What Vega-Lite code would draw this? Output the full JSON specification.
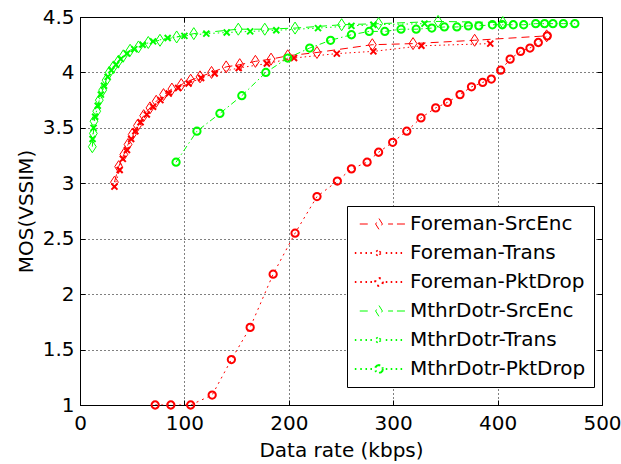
{
  "$schema": "https://vega.github.io/schema/vega-lite/v6.json",
  "width": 522,
  "height": 388,
  "autosize": {"type": "none"},
  "padding": {"left": 80, "top": 17, "right": 19, "bottom": 59},
  "background": "white",
  "config": {
    "view": {"stroke": "black", "strokeWidth": 1},
    "font": "DejaVu Sans",
    "axis": {
      "domainColor": "black",
      "domainWidth": 1,
      "tickColor": "black",
      "tickSize": -5,
      "labelFont": "DejaVu Sans",
      "labelFontSize": 20,
      "labelColor": "black",
      "titleFont": "DejaVu Sans",
      "titleFontSize": 20,
      "titleFontWeight": "normal",
      "titleColor": "black",
      "gridColor": "black",
      "gridDash": [1, 3],
      "gridOpacity": 1,
      "gridWidth": 1
    },
    "legend": {
      "strokeColor": "black",
      "fillColor": "white"
    }
  },
  "data": {
    "values": [
      {"series": "Foreman-SrcEnc", "rate": 33, "mos": 3.01},
      {"series": "Foreman-SrcEnc", "rate": 37, "mos": 3.15},
      {"series": "Foreman-SrcEnc", "rate": 42, "mos": 3.26},
      {"series": "Foreman-SrcEnc", "rate": 46, "mos": 3.35},
      {"series": "Foreman-SrcEnc", "rate": 50, "mos": 3.44},
      {"series": "Foreman-SrcEnc", "rate": 55, "mos": 3.52},
      {"series": "Foreman-SrcEnc", "rate": 61, "mos": 3.61},
      {"series": "Foreman-SrcEnc", "rate": 67, "mos": 3.68},
      {"series": "Foreman-SrcEnc", "rate": 73, "mos": 3.74},
      {"series": "Foreman-SrcEnc", "rate": 80, "mos": 3.80},
      {"series": "Foreman-SrcEnc", "rate": 88, "mos": 3.85},
      {"series": "Foreman-SrcEnc", "rate": 97, "mos": 3.89},
      {"series": "Foreman-SrcEnc", "rate": 106, "mos": 3.93},
      {"series": "Foreman-SrcEnc", "rate": 115, "mos": 3.96},
      {"series": "Foreman-SrcEnc", "rate": 126, "mos": 4.0},
      {"series": "Foreman-SrcEnc", "rate": 140, "mos": 4.05},
      {"series": "Foreman-SrcEnc", "rate": 153, "mos": 4.07},
      {"series": "Foreman-SrcEnc", "rate": 168, "mos": 4.10},
      {"series": "Foreman-SrcEnc", "rate": 183, "mos": 4.12},
      {"series": "Foreman-SrcEnc", "rate": 199, "mos": 4.15},
      {"series": "Foreman-SrcEnc", "rate": 227, "mos": 4.18},
      {"series": "Foreman-SrcEnc", "rate": 280, "mos": 4.25},
      {"series": "Foreman-SrcEnc", "rate": 319, "mos": 4.26},
      {"series": "Foreman-SrcEnc", "rate": 378, "mos": 4.29},
      {"series": "Foreman-SrcEnc", "rate": 447, "mos": 4.33},

      {"series": "Foreman-Trans", "rate": 33, "mos": 2.97},
      {"series": "Foreman-Trans", "rate": 38, "mos": 3.12},
      {"series": "Foreman-Trans", "rate": 41, "mos": 3.22},
      {"series": "Foreman-Trans", "rate": 45, "mos": 3.30},
      {"series": "Foreman-Trans", "rate": 49, "mos": 3.40},
      {"series": "Foreman-Trans", "rate": 53, "mos": 3.47},
      {"series": "Foreman-Trans", "rate": 58, "mos": 3.55},
      {"series": "Foreman-Trans", "rate": 64, "mos": 3.62},
      {"series": "Foreman-Trans", "rate": 70, "mos": 3.69},
      {"series": "Foreman-Trans", "rate": 77, "mos": 3.75},
      {"series": "Foreman-Trans", "rate": 85, "mos": 3.81},
      {"series": "Foreman-Trans", "rate": 94, "mos": 3.86},
      {"series": "Foreman-Trans", "rate": 104, "mos": 3.90},
      {"series": "Foreman-Trans", "rate": 116, "mos": 3.95},
      {"series": "Foreman-Trans", "rate": 129, "mos": 3.99},
      {"series": "Foreman-Trans", "rate": 152, "mos": 4.04},
      {"series": "Foreman-Trans", "rate": 179, "mos": 4.08},
      {"series": "Foreman-Trans", "rate": 205, "mos": 4.13},
      {"series": "Foreman-Trans", "rate": 246, "mos": 4.17},
      {"series": "Foreman-Trans", "rate": 281, "mos": 4.19},
      {"series": "Foreman-Trans", "rate": 327, "mos": 4.24},
      {"series": "Foreman-Trans", "rate": 393, "mos": 4.26},

      {"series": "Foreman-PktDrop", "rate": 72, "mos": 1.0},
      {"series": "Foreman-PktDrop", "rate": 87, "mos": 1.0},
      {"series": "Foreman-PktDrop", "rate": 106, "mos": 1.0},
      {"series": "Foreman-PktDrop", "rate": 126.6, "mos": 1.09},
      {"series": "Foreman-PktDrop", "rate": 145, "mos": 1.41},
      {"series": "Foreman-PktDrop", "rate": 163, "mos": 1.70},
      {"series": "Foreman-PktDrop", "rate": 185, "mos": 2.18},
      {"series": "Foreman-PktDrop", "rate": 206, "mos": 2.55},
      {"series": "Foreman-PktDrop", "rate": 227, "mos": 2.88},
      {"series": "Foreman-PktDrop", "rate": 246.5, "mos": 3.02},
      {"series": "Foreman-PktDrop", "rate": 260, "mos": 3.13},
      {"series": "Foreman-PktDrop", "rate": 275, "mos": 3.19},
      {"series": "Foreman-PktDrop", "rate": 286, "mos": 3.28},
      {"series": "Foreman-PktDrop", "rate": 299.5, "mos": 3.37},
      {"series": "Foreman-PktDrop", "rate": 313, "mos": 3.47},
      {"series": "Foreman-PktDrop", "rate": 326.6, "mos": 3.59},
      {"series": "Foreman-PktDrop", "rate": 340.7, "mos": 3.68},
      {"series": "Foreman-PktDrop", "rate": 352, "mos": 3.73},
      {"series": "Foreman-PktDrop", "rate": 364, "mos": 3.80},
      {"series": "Foreman-PktDrop", "rate": 375, "mos": 3.87},
      {"series": "Foreman-PktDrop", "rate": 385.7, "mos": 3.91},
      {"series": "Foreman-PktDrop", "rate": 394, "mos": 3.94},
      {"series": "Foreman-PktDrop", "rate": 403, "mos": 4.02},
      {"series": "Foreman-PktDrop", "rate": 412, "mos": 4.12},
      {"series": "Foreman-PktDrop", "rate": 422, "mos": 4.19},
      {"series": "Foreman-PktDrop", "rate": 431, "mos": 4.22},
      {"series": "Foreman-PktDrop", "rate": 439, "mos": 4.27},
      {"series": "Foreman-PktDrop", "rate": 447.6, "mos": 4.33},

      {"series": "MthrDotr-SrcEnc", "rate": 11.8, "mos": 3.33},
      {"series": "MthrDotr-SrcEnc", "rate": 12.8, "mos": 3.45},
      {"series": "MthrDotr-SrcEnc", "rate": 13.4, "mos": 3.56},
      {"series": "MthrDotr-SrcEnc", "rate": 16, "mos": 3.65},
      {"series": "MthrDotr-SrcEnc", "rate": 18.5, "mos": 3.75},
      {"series": "MthrDotr-SrcEnc", "rate": 21.7, "mos": 3.84},
      {"series": "MthrDotr-SrcEnc", "rate": 25, "mos": 3.93},
      {"series": "MthrDotr-SrcEnc", "rate": 28, "mos": 4.0},
      {"series": "MthrDotr-SrcEnc", "rate": 32, "mos": 4.05},
      {"series": "MthrDotr-SrcEnc", "rate": 36.7, "mos": 4.10},
      {"series": "MthrDotr-SrcEnc", "rate": 41.5, "mos": 4.15},
      {"series": "MthrDotr-SrcEnc", "rate": 48, "mos": 4.20},
      {"series": "MthrDotr-SrcEnc", "rate": 56, "mos": 4.23},
      {"series": "MthrDotr-SrcEnc", "rate": 65.4, "mos": 4.27},
      {"series": "MthrDotr-SrcEnc", "rate": 76.6, "mos": 4.29},
      {"series": "MthrDotr-SrcEnc", "rate": 92.6, "mos": 4.32},
      {"series": "MthrDotr-SrcEnc", "rate": 109, "mos": 4.35},
      {"series": "MthrDotr-SrcEnc", "rate": 151.6, "mos": 4.39},
      {"series": "MthrDotr-SrcEnc", "rate": 177, "mos": 4.39},
      {"series": "MthrDotr-SrcEnc", "rate": 206, "mos": 4.40},
      {"series": "MthrDotr-SrcEnc", "rate": 250.6, "mos": 4.43},
      {"series": "MthrDotr-SrcEnc", "rate": 286, "mos": 4.44},
      {"series": "MthrDotr-SrcEnc", "rate": 343, "mos": 4.46},
      {"series": "MthrDotr-SrcEnc", "rate": 405, "mos": 4.45},

      {"series": "MthrDotr-Trans", "rate": 12, "mos": 3.40},
      {"series": "MthrDotr-Trans", "rate": 13, "mos": 3.50},
      {"series": "MthrDotr-Trans", "rate": 14.5, "mos": 3.60},
      {"series": "MthrDotr-Trans", "rate": 17, "mos": 3.70},
      {"series": "MthrDotr-Trans", "rate": 20, "mos": 3.80},
      {"series": "MthrDotr-Trans", "rate": 23, "mos": 3.88},
      {"series": "MthrDotr-Trans", "rate": 26.5, "mos": 3.96},
      {"series": "MthrDotr-Trans", "rate": 30, "mos": 4.02},
      {"series": "MthrDotr-Trans", "rate": 34.5, "mos": 4.07},
      {"series": "MthrDotr-Trans", "rate": 39, "mos": 4.12},
      {"series": "MthrDotr-Trans", "rate": 45, "mos": 4.17},
      {"series": "MthrDotr-Trans", "rate": 52, "mos": 4.21},
      {"series": "MthrDotr-Trans", "rate": 60, "mos": 4.25},
      {"series": "MthrDotr-Trans", "rate": 70, "mos": 4.28},
      {"series": "MthrDotr-Trans", "rate": 84, "mos": 4.31},
      {"series": "MthrDotr-Trans", "rate": 100, "mos": 4.33},
      {"series": "MthrDotr-Trans", "rate": 121, "mos": 4.35},
      {"series": "MthrDotr-Trans", "rate": 140.5, "mos": 4.36},
      {"series": "MthrDotr-Trans", "rate": 163, "mos": 4.37},
      {"series": "MthrDotr-Trans", "rate": 188, "mos": 4.38},
      {"series": "MthrDotr-Trans", "rate": 228, "mos": 4.40},
      {"series": "MthrDotr-Trans", "rate": 260, "mos": 4.42},
      {"series": "MthrDotr-Trans", "rate": 281, "mos": 4.43},
      {"series": "MthrDotr-Trans", "rate": 330, "mos": 4.44},

      {"series": "MthrDotr-PktDrop", "rate": 92, "mos": 3.19},
      {"series": "MthrDotr-PktDrop", "rate": 112, "mos": 3.47},
      {"series": "MthrDotr-PktDrop", "rate": 134, "mos": 3.63},
      {"series": "MthrDotr-PktDrop", "rate": 155, "mos": 3.79},
      {"series": "MthrDotr-PktDrop", "rate": 178, "mos": 4.0},
      {"series": "MthrDotr-PktDrop", "rate": 199, "mos": 4.13},
      {"series": "MthrDotr-PktDrop", "rate": 220, "mos": 4.22},
      {"series": "MthrDotr-PktDrop", "rate": 240, "mos": 4.29},
      {"series": "MthrDotr-PktDrop", "rate": 260, "mos": 4.34},
      {"series": "MthrDotr-PktDrop", "rate": 277, "mos": 4.37},
      {"series": "MthrDotr-PktDrop", "rate": 292, "mos": 4.37},
      {"series": "MthrDotr-PktDrop", "rate": 307.5, "mos": 4.39},
      {"series": "MthrDotr-PktDrop", "rate": 322, "mos": 4.39},
      {"series": "MthrDotr-PktDrop", "rate": 337, "mos": 4.40},
      {"series": "MthrDotr-PktDrop", "rate": 349, "mos": 4.41},
      {"series": "MthrDotr-PktDrop", "rate": 361, "mos": 4.41},
      {"series": "MthrDotr-PktDrop", "rate": 372, "mos": 4.42},
      {"series": "MthrDotr-PktDrop", "rate": 382, "mos": 4.42},
      {"series": "MthrDotr-PktDrop", "rate": 395, "mos": 4.43},
      {"series": "MthrDotr-PktDrop", "rate": 404.5, "mos": 4.43},
      {"series": "MthrDotr-PktDrop", "rate": 415, "mos": 4.43},
      {"series": "MthrDotr-PktDrop", "rate": 425, "mos": 4.43},
      {"series": "MthrDotr-PktDrop", "rate": 436.5, "mos": 4.44},
      {"series": "MthrDotr-PktDrop", "rate": 445, "mos": 4.44},
      {"series": "MthrDotr-PktDrop", "rate": 453, "mos": 4.44},
      {"series": "MthrDotr-PktDrop", "rate": 463, "mos": 4.44},
      {"series": "MthrDotr-PktDrop", "rate": 474, "mos": 4.44}
    ]
  },
  "layer": [
    {
      "encoding": {
        "x": {
          "field": "rate", "type": "quantitative",
          "scale": {"domain": [0, 500], "nice": false, "zero": false},
          "axis": {"values": [0, 100, 200, 300, 400, 500], "format": "d", "title": "Data rate (kbps)", "labelPadding": 13, "titleY": 51, "titleBaseline": "alphabetic", "grid": true, "labelFlush": false, "labelOverlap": false}
        },
        "y": {
          "field": "mos", "type": "quantitative",
          "scale": {"domain": [1, 4.5], "nice": false, "zero": false},
          "axis": {"values": [1, 1.5, 2, 2.5, 3, 3.5, 4, 4.5], "format": "~g", "title": "MOS(VSSIM)", "labelPadding": 11, "titleX": -48, "titleBaseline": "alphabetic", "grid": true, "labelFlush": false, "labelOverlap": false}
        },
        "color": {
          "field": "series", "type": "nominal",
          "scale": {
            "domain": ["Foreman-SrcEnc", "Foreman-Trans", "Foreman-PktDrop", "MthrDotr-SrcEnc", "MthrDotr-Trans", "MthrDotr-PktDrop"],
            "range": ["#ff0000", "#ff0000", "#ff0000", "#00ff00", "#00ff00", "#00ff00"]
          },
          "legend": {
            "orient": "none",
            "legendX": 267,
            "legendY": 189,
            "title": null,
            "strokeColor": "black",
            "fillColor": "white",
            "padding": 8,
            "labelFont": "DejaVu Sans",
            "labelFontSize": 20,
            "labelColor": "black",
            "labelLimit": 400,
            "rowPadding": 9,
            "symbolSize": 2704,
            "symbolOffset": 14,
            "labelOffset": 21,
            "encode": {
              "legend": {
                "update": {
                  "stroke": {"value": "black"},
                  "strokeWidth": {"value": 1},
                  "fill": {"value": "white"}
                }
              },
              "symbols": {
                "update": {
                  "shape": {"signal": "(datum.value === 'Foreman-SrcEnc' || datum.value === 'MthrDotr-SrcEnc') ? 'M-0.74,0H-0.28M0,-0.21L0.13,0L0,0.21L-0.13,0ZM0.35,0H0.54M0.69,0H1' : (datum.value === 'Foreman-Trans' || datum.value === 'MthrDotr-Trans') ? 'M-0.93,0H-0.87M-0.72,0H-0.66M-0.52,0H-0.46M-0.33,0H-0.27M0.26,0H0.32M0.45,0H0.51M0.64,0H0.7M0.83,0H0.89M-0.1,-0.1L0.1,0.1M-0.1,0.1L0.1,-0.1' : 'M-0.93,0H-0.87M-0.72,0H-0.66M-0.52,0H-0.46M-0.33,0H-0.27M0.26,0H0.32M0.45,0H0.51M0.64,0H0.7M0.83,0H0.89M0.15,0L0.13,0.075L0.075,0.13L0,0.15L-0.075,0.13L-0.13,0.075L-0.15,0L-0.13,-0.075L-0.075,-0.13L0,-0.15L0.075,-0.13L0.13,-0.075Z'"},
                  "size": {"value": 2704},
                  "fill": {"value": "transparent"},
                  "stroke": {"scale": "color", "field": "value"},
                  "strokeWidth": {"signal": "(datum.value === 'Foreman-SrcEnc' || datum.value === 'MthrDotr-SrcEnc') ? 1 : 2"},
                  "opacity": {"value": 1}
                }
              }
            }
          }
        }
      },
      "layer": [
        {
          "mark": {"type": "line", "strokeWidth": 1, "clip": true},
          "encoding": {
            "strokeDash": {
              "field": "series", "type": "nominal",
              "scale": {
                "domain": ["Foreman-SrcEnc", "Foreman-Trans", "Foreman-PktDrop", "MthrDotr-SrcEnc", "MthrDotr-Trans", "MthrDotr-PktDrop"],
                "range": [[8, 5], [1.5, 3], [2, 4], [8, 5], [1.5, 3], [6, 3, 1.5, 3]]
              },
              "legend": null
            }
          }
        },
        {
          "transform": [{"filter": "datum.series === 'Foreman-SrcEnc' || datum.series === 'MthrDotr-SrcEnc'"}],
          "mark": {"type": "point", "filled": false, "shape": "M0,-1L0.65,0L0,1L-0.65,0Z", "size": 144, "strokeWidth": 1, "opacity": 1}
        },
        {
          "transform": [{"filter": "datum.series === 'Foreman-Trans' || datum.series === 'MthrDotr-Trans'"}],
          "mark": {"type": "point", "filled": false, "shape": "M-1,-1L1,1M-1,1L1,-1", "size": 36, "strokeWidth": 2, "opacity": 1}
        },
        {
          "transform": [{"filter": "datum.series === 'Foreman-PktDrop' || datum.series === 'MthrDotr-PktDrop'"}],
          "mark": {"type": "point", "filled": false, "shape": "circle", "size": 53, "strokeWidth": 2, "opacity": 1}
        }
      ]
    },
    {
      "mark": {"type": "point", "opacity": 0},
      "encoding": {
        "x": {
          "field": "rate", "type": "quantitative",
          "axis": {"orient": "top", "values": [0, 100, 200, 300, 400, 500], "labels": false, "title": null, "grid": false}
        },
        "y": {
          "field": "mos", "type": "quantitative",
          "axis": {"orient": "right", "values": [1, 1.5, 2, 2.5, 3, 3.5, 4, 4.5], "labels": false, "title": null, "grid": false}
        }
      }
    }
  ],
  "resolve": {"axis": {"x": "independent", "y": "independent"}}
}
